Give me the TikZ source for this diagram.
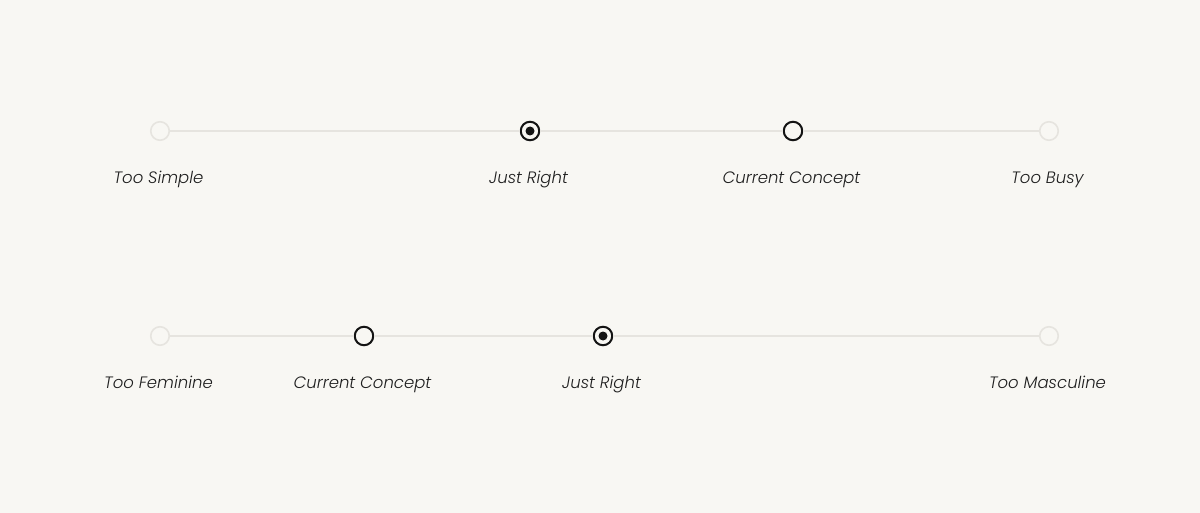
\documentclass[tikz,border=0pt]{standalone}
\usepackage{fontspec}
\setmainfont{Poppins}[UprightFont={* Light}, ItalicFont={* Light Italic}]
\usepackage{tikz}
\usetikzlibrary{positioning}
\definecolor{paper}{HTML}{F8F7F3}
\definecolor{track}{HTML}{E6E4DF}
\definecolor{ink}{HTML}{141414}
\definecolor{labelink}{HTML}{1E1E1E}
\newcommand{\sliderend}[2] {\node at (#1) (#2) [circle, draw=track, line width=1.6pt, fill=paper, minimum size=18.5pt, inner sep=0pt] {};}
\newcommand{\slidercurrent}[2] {\node at (#1) (#2) [circle, draw=ink, line width=2pt, fill=paper, minimum size=18.5pt, inner sep=0pt] {};}
\newcommand{\sliderpick}[2] {\node at (#1) (#2) [circle, draw=ink, line width=2pt, fill=paper, minimum size=18.5pt, inner sep=0pt] {};
  \fill [ink] (#2.center) circle (4.5pt);}
\newcommand{\sliderlabel}[3] {\node [below=42pt of #1, anchor=base, xshift=-1.5pt, font=\fontsize{16.5}{20}\selectfont\itshape, text=labelink] (#2) {#3};}
\newcommand{\slidertrack}[2] {\draw [track, line width=2pt] (#1) -- (#2);}

\begin{document}
\begin{tikzpicture}[x=1pt, y=-1pt]
\fill [paper] (0,0) rectangle (1200,513);
\useasboundingbox (0,0) rectangle (1200,513);

% simple / busy
\sliderend {160,131}{simple}
\sliderpick {530,131}{rightone}
\slidercurrent {793,131}{currentone}
\sliderend {1049,131}{busy}
\slidertrack {simple}{rightone}
\slidertrack {rightone}{currentone}
\slidertrack {currentone}{busy}
\sliderlabel {simple}{simplelabel}{Too Simple}
\sliderlabel {rightone}{rightonelabel}{Just Right}
\sliderlabel {currentone}{currentonelabel}{Current Concept}
\sliderlabel {busy}{busylabel}{Too Busy}

% feminine / masculine
\sliderend {160,336}{feminine}
\slidercurrent {364,336}{currenttwo}
\sliderpick {603,336}{righttwo}
\sliderend {1049,336}{masculine}
\slidertrack {feminine}{currenttwo}
\slidertrack {currenttwo}{righttwo}
\slidertrack {righttwo}{masculine}
\sliderlabel {feminine}{femininelabel}{Too Feminine}
\sliderlabel {currenttwo}{currenttwolabel}{Current Concept}
\sliderlabel {righttwo}{righttwolabel}{Just Right}
\sliderlabel {masculine}{masculinelabel}{Too Masculine}
\end{tikzpicture}
\end{document}
